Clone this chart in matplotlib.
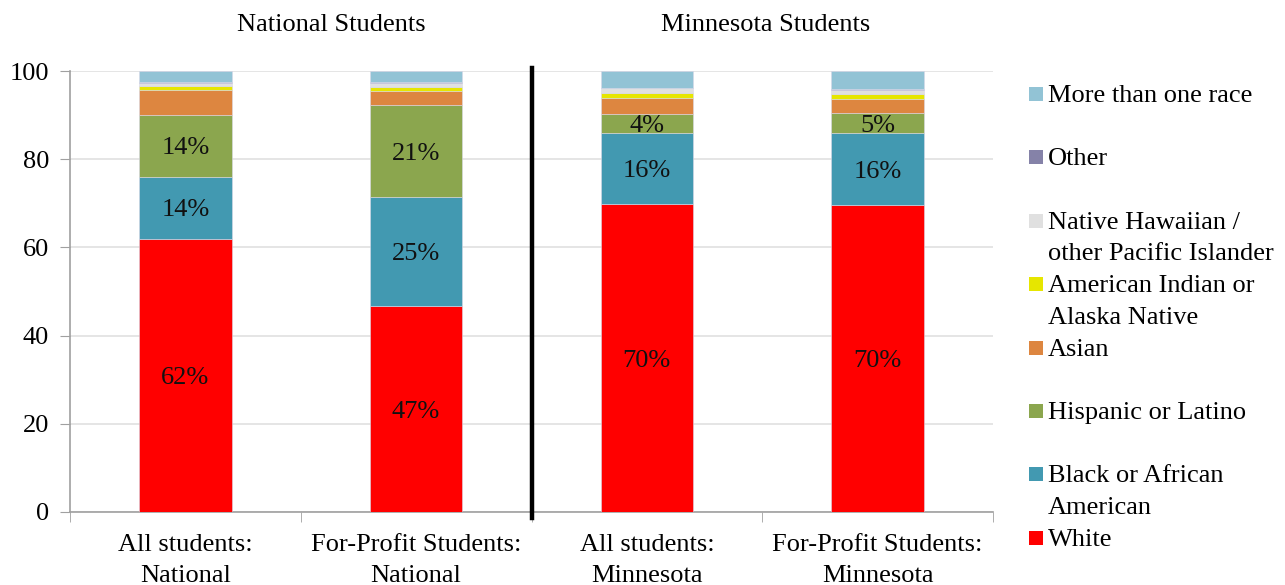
import matplotlib.pyplot as plt
from matplotlib.patches import Rectangle

plt.rcParams['font.family'] = ['Liberation Serif', 'DejaVu Serif']

categories = ["All students:\nNational", "For-Profit Students:\nNational",
              "All students:\nMinnesota", "For-Profit Students:\nMinnesota"]
groups = ["National Students", "Minnesota Students"]

# percentages per race, one value per category
white = [61.9, 46.6, 69.8, 69.6]
black = [14.1, 24.8, 16.1, 16.3]
hispanic = [14.0, 20.8, 4.3, 4.6]
asian = [5.8, 3.3, 3.7, 3.1]
aian = [0.8, 0.9, 1.1, 1.2]
nhpi = [0.6, 0.8, 1.1, 1.0]
other = [0.2, 0.2, 0.0, 0.1]
multi = [2.6, 2.6, 3.9, 4.1]

series = [
    ("White", white, "#FF0000"),
    ("Black or African\nAmerican", black, "#4299B1"),
    ("Hispanic or Latino", hispanic, "#8BA64E"),
    ("Asian", asian, "#DD8640"),
    ("American Indian or\nAlaska Native", aian, "#E6E600"),
    ("Native Hawaiian /\nother Pacific Islander", nhpi, "#E0E0E0"),
    ("Other", other, "#8582A8"),
    ("More than one race", multi, "#92C3D5"),
]
labelled = {"White", "Black or African\nAmerican", "Hispanic or Latino"}

fs = 19
fig = plt.figure(figsize=(12.85, 5.85), dpi=100)
ax = fig.add_axes([70 / 1285, 73 / 585, 923 / 1285, 441 / 585])

x = list(range(len(categories)))
bottom = [0.0] * len(categories)
for name, vals, col in series:
    ax.bar(x, vals, width=0.4, bottom=bottom, color=col,
           edgecolor="#D8D8E8", linewidth=0.4, zorder=3)
    if name in labelled:
        for xi, b, v in zip(x, bottom, vals):
            ax.text(xi, b + v / 2, f"{v:.0f}%", fontsize=fs, color="#111111",
                    ha="center", va="center_baseline", zorder=4)
    bottom = [b + v for b, v in zip(bottom, vals)]

ax.set_xlim(-0.5, 3.5)
ax.set_ylim(0, 100)
ax.set_yticks(range(0, 101, 20))
ax.tick_params(axis="y", labelsize=fs, length=7, color="#A0A0A0", pad=8)
ax.set_xticks(x)
ax.set_xticklabels(categories, fontsize=fs, linespacing=1.5)
ax.tick_params(axis="x", length=0, pad=16)
ax.set_xticks([-0.5, 0.5, 1.5, 2.5, 3.5], minor=True)
ax.tick_params(axis="x", which="minor", length=7, color="#A0A0A0")
ax.yaxis.grid(True, color="#E0E0E0", linewidth=1.2, zorder=0)
ax.set_axisbelow(True)
for s in ["top", "right"]:
    ax.spines[s].set_visible(False)
for s in ["left", "bottom"]:
    ax.spines[s].set_color("#A0A0A0")
    ax.spines[s].set_linewidth(1.2)

# divider between the two groups
ax.plot([1.5, 1.5], [-1.4, 100.7], color="black", linewidth=3.2,
        clip_on=False, zorder=5)

fig.text(331 / 1285, 1 - 25 / 585, groups[0], fontsize=fs, ha="center", va="center")
fig.text(766 / 1285, 1 - 25 / 585, groups[1], fontsize=fs, ha="center", va="center")

# legend, drawn like the Excel one: fixed slots, top entry first
leg_y0 = 94
step = 63.4
for i, (name, vals, col) in enumerate(series[::-1]):
    yc = leg_y0 + i * step
    fig.patches.append(Rectangle((1029 / 1285, 1 - (yc + 7) / 585), 14 / 1285, 14 / 585,
                                 facecolor=col, edgecolor="none",
                                 transform=fig.transFigure, figure=fig))
    fig.text(1048 / 1285, 1 - (yc - 9) / 585, name, fontsize=fs, ha="left",
             va="top", linespacing=1.55)

fig.savefig("out.png", dpi=100)
